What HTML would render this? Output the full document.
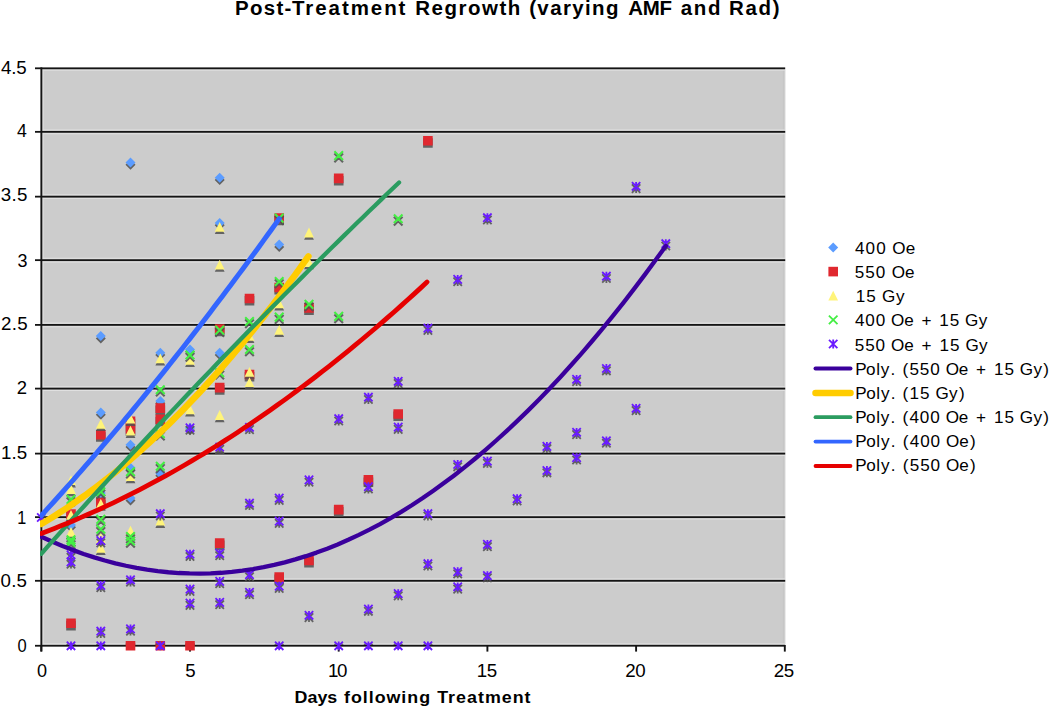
<!DOCTYPE html><html><head><meta charset="utf-8"><title>Post-Treatment Regrowth</title>
<style>html,body{margin:0;padding:0;background:#fff;overflow:hidden}svg{display:block}text{font-family:"Liberation Sans",sans-serif;fill:#000}</style></head><body>
<svg width="1050" height="706" viewBox="0 0 1050 706">
<defs><clipPath id="pc"><rect x="41" y="60" width="745" height="584.9"/></clipPath><clipPath id="lc"><rect x="39.9" y="60" width="746" height="600"/></clipPath></defs>
<rect x="41.3" y="68.3" width="743.5" height="577.5" fill="#cccccc"/>
<rect x="782.8" y="69.5" width="2" height="575" fill="#c6c6c6"/>
<rect x="42.3" y="69.5" width="1.4" height="575" fill="#dddddd"/>
<rect x="784.8" y="69.5" width="1.2" height="575" fill="#ececec"/>
<rect x="42.2" y="643.35" width="742.6" height="1.1" fill="#e0e0e0"/>
<rect x="35" y="644.85" width="750.2" height="1.8" fill="#141414"/>
<rect x="42.2" y="578.40" width="742.6" height="1.1" fill="#e0e0e0"/>
<rect x="42.2" y="582.10" width="742.6" height="1.1" fill="#e0e0e0"/>
<rect x="35" y="579.90" width="750.2" height="1.8" fill="#141414"/>
<rect x="42.2" y="514.75" width="742.6" height="1.1" fill="#e0e0e0"/>
<rect x="42.2" y="518.45" width="742.6" height="1.1" fill="#e0e0e0"/>
<rect x="35" y="516.25" width="750.2" height="1.8" fill="#141414"/>
<rect x="42.2" y="451.20" width="742.6" height="1.1" fill="#e0e0e0"/>
<rect x="42.2" y="454.90" width="742.6" height="1.1" fill="#e0e0e0"/>
<rect x="35" y="452.70" width="750.2" height="1.8" fill="#141414"/>
<rect x="42.2" y="386.20" width="742.6" height="1.1" fill="#e0e0e0"/>
<rect x="42.2" y="389.90" width="742.6" height="1.1" fill="#e0e0e0"/>
<rect x="35" y="387.70" width="750.2" height="1.8" fill="#141414"/>
<rect x="42.2" y="322.50" width="742.6" height="1.1" fill="#e0e0e0"/>
<rect x="42.2" y="326.20" width="742.6" height="1.1" fill="#e0e0e0"/>
<rect x="35" y="324.00" width="750.2" height="1.8" fill="#141414"/>
<rect x="42.2" y="257.75" width="742.6" height="1.1" fill="#e0e0e0"/>
<rect x="42.2" y="261.45" width="742.6" height="1.1" fill="#e0e0e0"/>
<rect x="35" y="259.25" width="750.2" height="1.8" fill="#141414"/>
<rect x="42.2" y="194.25" width="742.6" height="1.1" fill="#e0e0e0"/>
<rect x="42.2" y="197.95" width="742.6" height="1.1" fill="#e0e0e0"/>
<rect x="35" y="195.75" width="750.2" height="1.8" fill="#141414"/>
<rect x="42.2" y="129.45" width="742.6" height="1.1" fill="#e0e0e0"/>
<rect x="42.2" y="133.15" width="742.6" height="1.1" fill="#e0e0e0"/>
<rect x="35" y="130.95" width="750.2" height="1.8" fill="#141414"/>
<rect x="42.2" y="69.60" width="742.6" height="1.1" fill="#e0e0e0"/>
<rect x="35" y="67.40" width="750.2" height="1.8" fill="#141414"/>
<rect x="40.4" y="67.4" width="1.9" height="584" fill="#141414"/>
<rect x="40.35" y="645" width="1.9" height="6.6" fill="#141414"/>
<rect x="189.05" y="645" width="1.9" height="6.6" fill="#141414"/>
<rect x="337.75" y="645" width="1.9" height="6.6" fill="#141414"/>
<rect x="486.45" y="645" width="1.9" height="6.6" fill="#141414"/>
<rect x="635.15" y="645" width="1.9" height="6.6" fill="#141414"/>
<rect x="783.85" y="645" width="1.9" height="6.6" fill="#141414"/>
<path d="M71.0 522.2L76.0 527.2L71.0 532.2L66.0 527.2ZM100.8 333.4L105.8 338.4L100.8 343.4L95.8 338.4ZM100.8 409.7L105.8 414.7L100.8 419.7L95.8 414.7ZM100.8 490.4L105.8 495.4L100.8 500.4L95.8 495.4ZM130.5 159.7L135.5 164.7L130.5 169.7L125.5 164.7ZM130.5 442.1L135.5 447.1L130.5 452.1L125.5 447.1ZM130.5 465.1L135.5 470.1L130.5 475.1L125.5 470.1ZM130.5 495.4L135.5 500.4L130.5 505.4L125.5 500.4ZM160.3 350.1L165.3 355.1L160.3 360.1L155.3 355.1ZM160.3 398.2L165.3 403.2L160.3 408.2L155.3 403.2ZM160.3 470.8L165.3 475.8L160.3 480.8L155.3 475.8ZM190.0 346.7L195.0 351.7L190.0 356.7L185.0 351.7ZM190.0 425.2L195.0 430.2L190.0 435.2L185.0 430.2ZM219.7 175.0L224.7 180.0L219.7 185.0L214.7 180.0ZM219.7 220.3L224.7 225.3L219.7 230.3L214.7 225.3ZM219.7 350.1L224.7 355.1L219.7 360.1L214.7 355.1ZM279.2 241.9L284.2 246.9L279.2 251.9L274.2 246.9Z" fill="rgba(80,80,80,0.85)" clip-path="url(#pc)"/><path d="M71.0 519.9L76.0 524.9L71.0 529.9L66.0 524.9ZM100.8 331.1L105.8 336.1L100.8 341.1L95.8 336.1ZM100.8 407.4L105.8 412.4L100.8 417.4L95.8 412.4ZM100.8 488.1L105.8 493.1L100.8 498.1L95.8 493.1ZM130.5 157.4L135.5 162.4L130.5 167.4L125.5 162.4ZM130.5 439.8L135.5 444.8L130.5 449.8L125.5 444.8ZM130.5 462.8L135.5 467.8L130.5 472.8L125.5 467.8ZM130.5 493.1L135.5 498.1L130.5 503.1L125.5 498.1ZM160.3 347.8L165.3 352.8L160.3 357.8L155.3 352.8ZM160.3 395.9L165.3 400.9L160.3 405.9L155.3 400.9ZM160.3 468.5L165.3 473.5L160.3 478.5L155.3 473.5ZM190.0 344.4L195.0 349.4L190.0 354.4L185.0 349.4ZM190.0 422.9L195.0 427.9L190.0 432.9L185.0 427.9ZM219.7 172.7L224.7 177.7L219.7 182.7L214.7 177.7ZM219.7 218.0L224.7 223.0L219.7 228.0L214.7 223.0ZM219.7 347.8L224.7 352.8L219.7 357.8L214.7 352.8ZM279.2 239.6L284.2 244.6L279.2 249.6L274.2 244.6Z" fill="#5b9cff"/>
<path d="M66.2 511.6h9.6v9.6h-9.6ZM66.2 620.8h9.6v9.6h-9.6ZM96.0 432.2h9.6v9.6h-9.6ZM96.0 500.0h9.6v9.6h-9.6ZM125.7 418.7h9.6v9.6h-9.6ZM125.7 426.4h9.6v9.6h-9.6ZM125.7 643.3h9.6v9.6h-9.6ZM155.5 405.6h9.6v9.6h-9.6ZM155.5 416.7h9.6v9.6h-9.6ZM155.5 643.3h9.6v9.6h-9.6ZM185.2 643.3h9.6v9.6h-9.6ZM214.9 385.1h9.6v9.6h-9.6ZM214.9 326.6h9.6v9.6h-9.6ZM214.9 540.6h9.6v9.6h-9.6ZM244.7 296.0h9.6v9.6h-9.6ZM244.7 372.0h9.6v9.6h-9.6ZM274.4 215.6h9.6v9.6h-9.6ZM274.4 285.0h9.6v9.6h-9.6ZM274.4 574.6h9.6v9.6h-9.6ZM304.2 305.4h9.6v9.6h-9.6ZM304.2 558.0h9.6v9.6h-9.6ZM333.9 175.9h9.6v9.6h-9.6ZM333.9 507.1h9.6v9.6h-9.6ZM363.6 477.4h9.6v9.6h-9.6ZM393.4 411.5h9.6v9.6h-9.6ZM423.1 138.2h9.6v9.6h-9.6Z" fill="rgba(80,80,80,0.85)" clip-path="url(#pc)"/><path d="M66.2 509.3h9.6v9.6h-9.6ZM66.2 618.5h9.6v9.6h-9.6ZM96.0 429.9h9.6v9.6h-9.6ZM96.0 497.7h9.6v9.6h-9.6ZM125.7 416.4h9.6v9.6h-9.6ZM125.7 424.1h9.6v9.6h-9.6ZM125.7 641.0h9.6v9.6h-9.6ZM155.5 403.3h9.6v9.6h-9.6ZM155.5 414.4h9.6v9.6h-9.6ZM155.5 641.0h9.6v9.6h-9.6ZM185.2 641.0h9.6v9.6h-9.6ZM214.9 382.8h9.6v9.6h-9.6ZM214.9 324.3h9.6v9.6h-9.6ZM214.9 538.3h9.6v9.6h-9.6ZM244.7 293.7h9.6v9.6h-9.6ZM244.7 369.7h9.6v9.6h-9.6ZM274.4 213.3h9.6v9.6h-9.6ZM274.4 282.7h9.6v9.6h-9.6ZM274.4 572.3h9.6v9.6h-9.6ZM304.2 303.1h9.6v9.6h-9.6ZM304.2 555.7h9.6v9.6h-9.6ZM333.9 173.6h9.6v9.6h-9.6ZM333.9 504.8h9.6v9.6h-9.6ZM363.6 475.1h9.6v9.6h-9.6ZM393.4 409.2h9.6v9.6h-9.6ZM423.1 135.9h9.6v9.6h-9.6Z" fill="#e0282f"/>
<path d="M71.0 477.6L75.9 487.4L66.1 487.4ZM71.0 486.5L75.9 496.3L66.1 496.3ZM71.0 512.2L75.9 522.0L66.1 522.0ZM71.0 529.3L75.9 539.1L66.1 539.1ZM100.8 421.2L105.7 431.0L95.9 431.0ZM100.8 501.0L105.7 510.8L95.9 510.8ZM100.8 535.3L105.7 545.1L95.9 545.1ZM100.8 545.2L105.7 555.0L95.9 555.0ZM130.5 416.1L135.4 425.9L125.6 425.9ZM130.5 428.1L135.4 437.9L125.6 437.9ZM130.5 473.4L135.4 483.2L125.6 483.2ZM130.5 528.1L135.4 537.9L125.6 537.9ZM160.3 355.8L165.2 365.6L155.4 365.6ZM160.3 518.1L165.2 527.9L155.4 527.9ZM190.0 357.2L194.9 367.0L185.1 367.0ZM190.0 406.8L194.9 416.6L185.1 416.6ZM219.7 224.2L224.6 234.0L214.8 234.0ZM219.7 262.0L224.6 271.8L214.8 271.8ZM219.7 412.4L224.6 422.2L214.8 422.2ZM219.7 444.2L224.6 454.0L214.8 454.0ZM249.5 369.2L254.4 379.0L244.6 379.0ZM249.5 379.5L254.4 389.3L244.6 389.3ZM249.5 333.2L254.4 343.0L244.6 343.0ZM279.2 300.8L284.1 310.6L274.3 310.6ZM279.2 327.3L284.1 337.1L274.3 337.1ZM309.0 229.9L313.9 239.7L304.1 239.7ZM309.0 259.4L313.9 269.2L304.1 269.2Z" fill="rgba(80,80,80,0.85)" clip-path="url(#pc)"/><path d="M71.0 475.3L75.9 485.1L66.1 485.1ZM71.0 484.2L75.9 494.0L66.1 494.0ZM71.0 509.9L75.9 519.7L66.1 519.7ZM71.0 527.0L75.9 536.8L66.1 536.8ZM100.8 418.9L105.7 428.7L95.9 428.7ZM100.8 498.7L105.7 508.5L95.9 508.5ZM100.8 533.0L105.7 542.8L95.9 542.8ZM100.8 542.9L105.7 552.7L95.9 552.7ZM130.5 413.8L135.4 423.6L125.6 423.6ZM130.5 425.8L135.4 435.6L125.6 435.6ZM130.5 471.1L135.4 480.9L125.6 480.9ZM130.5 525.8L135.4 535.6L125.6 535.6ZM160.3 353.5L165.2 363.3L155.4 363.3ZM160.3 515.8L165.2 525.6L155.4 525.6ZM190.0 354.9L194.9 364.7L185.1 364.7ZM190.0 404.5L194.9 414.3L185.1 414.3ZM219.7 221.9L224.6 231.7L214.8 231.7ZM219.7 259.7L224.6 269.5L214.8 269.5ZM219.7 410.1L224.6 419.9L214.8 419.9ZM219.7 441.9L224.6 451.7L214.8 451.7ZM249.5 366.9L254.4 376.7L244.6 376.7ZM249.5 377.2L254.4 387.0L244.6 387.0ZM249.5 330.9L254.4 340.7L244.6 340.7ZM279.2 298.5L284.1 308.3L274.3 308.3ZM279.2 325.0L284.1 334.8L274.3 334.8ZM309.0 227.6L313.9 237.4L304.1 237.4ZM309.0 257.1L313.9 266.9L304.1 266.9Z" fill="#fff47a"/>
<path d="M66.7 497.4L75.3 506.0M75.3 497.4L66.7 506.0M66.7 537.7L75.3 546.3M75.3 537.7L66.7 546.3M66.7 540.5L75.3 549.1M75.3 540.5L66.7 549.1M96.5 517.4L105.1 526.0M105.1 517.4L96.5 526.0M96.5 527.3L105.1 535.9M105.1 527.3L96.5 535.9M96.5 489.8L105.1 498.4M105.1 489.8L96.5 498.4M126.2 469.7L134.8 478.3M134.8 469.7L126.2 478.3M126.2 534.5L134.8 543.1M134.8 534.5L126.2 543.1M126.2 539.0L134.8 547.6M134.8 539.0L126.2 547.6M156.0 464.3L164.6 472.9M164.6 464.3L156.0 472.9M156.0 387.7L164.6 396.3M164.6 387.7L156.0 396.3M156.0 431.7L164.6 440.3M164.6 431.7L156.0 440.3M185.7 353.0L194.3 361.6M194.3 353.0L185.7 361.6M215.4 328.1L224.0 336.7M224.0 328.1L215.4 336.7M215.4 370.7L224.0 379.3M224.0 370.7L215.4 379.3M245.2 319.5L253.8 328.1M253.8 319.5L245.2 328.1M245.2 347.5L253.8 356.1M253.8 347.5L245.2 356.1M274.9 279.5L283.5 288.1M283.5 279.5L274.9 288.1M274.9 315.1L283.5 323.7M283.5 315.1L274.9 323.7M274.9 216.1L283.5 224.7M283.5 216.1L274.9 224.7M304.7 302.4L313.3 311.0M313.3 302.4L304.7 311.0M334.4 153.6L343.0 162.2M343.0 153.6L334.4 162.2M334.4 314.4L343.0 323.0M343.0 314.4L334.4 323.0M393.9 216.8L402.5 225.4M402.5 216.8L393.9 225.4" fill="none" stroke="rgba(80,80,80,0.85)" stroke-width="2.1" clip-path="url(#pc)"/><path d="M66.7 495.1L75.3 503.7M75.3 495.1L66.7 503.7M66.7 535.4L75.3 544.0M75.3 535.4L66.7 544.0M66.7 538.2L75.3 546.8M75.3 538.2L66.7 546.8M96.5 515.1L105.1 523.7M105.1 515.1L96.5 523.7M96.5 525.0L105.1 533.6M105.1 525.0L96.5 533.6M96.5 487.5L105.1 496.1M105.1 487.5L96.5 496.1M126.2 467.4L134.8 476.0M134.8 467.4L126.2 476.0M126.2 532.2L134.8 540.8M134.8 532.2L126.2 540.8M126.2 536.7L134.8 545.3M134.8 536.7L126.2 545.3M156.0 462.0L164.6 470.6M164.6 462.0L156.0 470.6M156.0 385.4L164.6 394.0M164.6 385.4L156.0 394.0M156.0 429.4L164.6 438.0M164.6 429.4L156.0 438.0M185.7 350.7L194.3 359.3M194.3 350.7L185.7 359.3M215.4 325.8L224.0 334.4M224.0 325.8L215.4 334.4M215.4 368.4L224.0 377.0M224.0 368.4L215.4 377.0M245.2 317.2L253.8 325.8M253.8 317.2L245.2 325.8M245.2 345.2L253.8 353.8M253.8 345.2L245.2 353.8M274.9 277.2L283.5 285.8M283.5 277.2L274.9 285.8M274.9 312.8L283.5 321.4M283.5 312.8L274.9 321.4M274.9 213.8L283.5 222.4M283.5 213.8L274.9 222.4M304.7 300.1L313.3 308.7M313.3 300.1L304.7 308.7M334.4 151.3L343.0 159.9M343.0 151.3L334.4 159.9M334.4 312.1L343.0 320.7M343.0 312.1L334.4 320.7M393.9 214.5L402.5 223.1M402.5 214.5L393.9 223.1" fill="none" stroke="#44ee44" stroke-width="2.1"/>
<path d="M37.1 515.6L45.5 524.0M45.5 515.6L37.1 524.0M41.3 515.4V524.2M66.8 553.0L75.2 561.4M75.2 553.0L66.8 561.4M71.0 552.8V561.6M66.8 560.0L75.2 568.4M75.2 560.0L66.8 568.4M71.0 559.8V568.6M66.8 643.9L75.2 652.3M75.2 643.9L66.8 652.3M71.0 643.7V652.5M96.6 538.7L105.0 547.1M105.0 538.7L96.6 547.1M100.8 538.5V547.3M96.6 583.5L105.0 591.9M105.0 583.5L96.6 591.9M100.8 583.3V592.1M96.6 629.3L105.0 637.7M105.0 629.3L96.6 637.7M100.8 629.1V637.9M96.6 643.9L105.0 652.3M105.0 643.9L96.6 652.3M100.8 643.7V652.5M126.3 577.9L134.7 586.3M134.7 577.9L126.3 586.3M130.5 577.7V586.5M126.3 627.0L134.7 635.4M134.7 627.0L126.3 635.4M130.5 626.8V635.6M156.1 511.8L164.5 520.2M164.5 511.8L156.1 520.2M160.3 511.6V520.4M156.1 643.9L164.5 652.3M164.5 643.9L156.1 652.3M160.3 643.7V652.5M185.8 552.3L194.2 560.7M194.2 552.3L185.8 560.7M190.0 552.1V560.9M185.8 587.2L194.2 595.6M194.2 587.2L185.8 595.6M190.0 587.0V595.8M185.8 601.2L194.2 609.6M194.2 601.2L185.8 609.6M190.0 601.0V609.8M185.8 426.0L194.2 434.4M194.2 426.0L185.8 434.4M190.0 425.8V434.6M215.5 445.2L223.9 453.6M223.9 445.2L215.5 453.6M219.7 445.0V453.8M215.5 551.5L223.9 559.9M223.9 551.5L215.5 559.9M219.7 551.3V560.1M215.5 579.5L223.9 587.9M223.9 579.5L215.5 587.9M219.7 579.3V588.1M215.5 600.5L223.9 608.9M223.9 600.5L215.5 608.9M219.7 600.3V609.1M245.3 425.4L253.7 433.8M253.7 425.4L245.3 433.8M249.5 425.2V434.0M245.3 501.3L253.7 509.7M253.7 501.3L245.3 509.7M249.5 501.1V509.9M245.3 572.7L253.7 581.1M253.7 572.7L245.3 581.1M249.5 572.5V581.3M245.3 590.5L253.7 598.9M253.7 590.5L245.3 598.9M249.5 590.3V599.1M275.0 496.2L283.4 504.6M283.4 496.2L275.0 504.6M279.2 496.0V504.8M275.0 519.2L283.4 527.6M283.4 519.2L275.0 527.6M279.2 519.0V527.8M275.0 584.2L283.4 592.6M283.4 584.2L275.0 592.6M279.2 584.0V592.8M275.0 643.9L283.4 652.3M283.4 643.9L275.0 652.3M279.2 643.7V652.5M304.8 478.0L313.2 486.4M313.2 478.0L304.8 486.4M309.0 477.8V486.6M304.8 613.4L313.2 621.8M313.2 613.4L304.8 621.8M309.0 613.2V622.0M334.5 416.8L342.9 425.2M342.9 416.8L334.5 425.2M338.7 416.6V425.4M334.5 643.9L342.9 652.3M342.9 643.9L334.5 652.3M338.7 643.7V652.5M364.2 395.3L372.6 403.7M372.6 395.3L364.2 403.7M368.4 395.1V403.9M364.2 484.8L372.6 493.2M372.6 484.8L364.2 493.2M368.4 484.6V493.4M364.2 607.1L372.6 615.5M372.6 607.1L364.2 615.5M368.4 606.9V615.7M364.2 643.9L372.6 652.3M372.6 643.9L364.2 652.3M368.4 643.7V652.5M394.0 379.4L402.4 387.8M402.4 379.4L394.0 387.8M398.2 379.2V388.0M394.0 425.2L402.4 433.6M402.4 425.2L394.0 433.6M398.2 425.0V433.8M394.0 591.7L402.4 600.1M402.4 591.7L394.0 600.1M398.2 591.5V600.3M394.0 643.9L402.4 652.3M402.4 643.9L394.0 652.3M398.2 643.7V652.5M423.7 326.2L432.1 334.6M432.1 326.2L423.7 334.6M427.9 326.0V334.8M423.7 511.8L432.1 520.2M432.1 511.8L423.7 520.2M427.9 511.6V520.4M423.7 561.8L432.1 570.2M432.1 561.8L423.7 570.2M427.9 561.6V570.4M423.7 643.9L432.1 652.3M432.1 643.9L423.7 652.3M427.9 643.7V652.5M453.5 277.5L461.9 285.9M461.9 277.5L453.5 285.9M457.7 277.3V286.1M453.5 462.6L461.9 471.0M461.9 462.6L453.5 471.0M457.7 462.4V471.2M453.5 569.7L461.9 578.1M461.9 569.7L453.5 578.1M457.7 569.5V578.3M453.5 584.9L461.9 593.3M461.9 584.9L453.5 593.3M457.7 584.7V593.5M483.2 215.8L491.6 224.2M491.6 215.8L483.2 224.2M487.4 215.6V224.4M483.2 459.2L491.6 467.6M491.6 459.2L483.2 467.6M487.4 459.0V467.8M483.2 542.5L491.6 550.9M491.6 542.5L483.2 550.9M487.4 542.3V551.1M483.2 573.7L491.6 582.1M491.6 573.7L483.2 582.1M487.4 573.5V582.3M512.9 496.8L521.3 505.2M521.3 496.8L512.9 505.2M517.1 496.6V505.4M542.7 444.5L551.1 452.9M551.1 444.5L542.7 452.9M546.9 444.3V453.1M542.7 468.6L551.1 477.0M551.1 468.6L542.7 477.0M546.9 468.4V477.2M572.4 377.4L580.8 385.8M580.8 377.4L572.4 385.8M576.6 377.2V386.0M572.4 430.4L580.8 438.8M580.8 430.4L572.4 438.8M576.6 430.2V439.0M572.4 455.8L580.8 464.2M580.8 455.8L572.4 464.2M576.6 455.6V464.4M602.2 274.3L610.6 282.7M610.6 274.3L602.2 282.7M606.4 274.1V282.9M602.2 366.6L610.6 375.0M610.6 366.6L602.2 375.0M606.4 366.4V375.2M602.2 439.0L610.6 447.4M610.6 439.0L602.2 447.4M606.4 438.8V447.6M631.9 184.4L640.3 192.8M640.3 184.4L631.9 192.8M636.1 184.2V193.0M631.9 406.4L640.3 414.8M640.3 406.4L631.9 414.8M636.1 406.2V415.0M661.6 241.8L670.0 250.2M670.0 241.8L661.6 250.2M665.8 241.6V250.4" fill="none" stroke="rgba(80,80,80,0.85)" stroke-width="1.8" clip-path="url(#pc)"/><path d="M37.1 513.3L45.5 521.7M45.5 513.3L37.1 521.7M41.3 513.1V521.9M66.8 550.7L75.2 559.1M75.2 550.7L66.8 559.1M71.0 550.5V559.3M66.8 557.7L75.2 566.1M75.2 557.7L66.8 566.1M71.0 557.5V566.3M66.8 641.6L75.2 650.0M75.2 641.6L66.8 650.0M71.0 641.4V650.2M96.6 536.4L105.0 544.8M105.0 536.4L96.6 544.8M100.8 536.2V545.0M96.6 581.2L105.0 589.6M105.0 581.2L96.6 589.6M100.8 581.0V589.8M96.6 627.0L105.0 635.4M105.0 627.0L96.6 635.4M100.8 626.8V635.6M96.6 641.6L105.0 650.0M105.0 641.6L96.6 650.0M100.8 641.4V650.2M126.3 575.6L134.7 584.0M134.7 575.6L126.3 584.0M130.5 575.4V584.2M126.3 624.7L134.7 633.1M134.7 624.7L126.3 633.1M130.5 624.5V633.3M156.1 509.5L164.5 517.9M164.5 509.5L156.1 517.9M160.3 509.3V518.1M156.1 641.6L164.5 650.0M164.5 641.6L156.1 650.0M160.3 641.4V650.2M185.8 550.0L194.2 558.4M194.2 550.0L185.8 558.4M190.0 549.8V558.6M185.8 584.9L194.2 593.3M194.2 584.9L185.8 593.3M190.0 584.7V593.5M185.8 598.9L194.2 607.3M194.2 598.9L185.8 607.3M190.0 598.7V607.5M185.8 423.7L194.2 432.1M194.2 423.7L185.8 432.1M190.0 423.5V432.3M215.5 442.9L223.9 451.3M223.9 442.9L215.5 451.3M219.7 442.7V451.5M215.5 549.2L223.9 557.6M223.9 549.2L215.5 557.6M219.7 549.0V557.8M215.5 577.2L223.9 585.6M223.9 577.2L215.5 585.6M219.7 577.0V585.8M215.5 598.2L223.9 606.6M223.9 598.2L215.5 606.6M219.7 598.0V606.8M245.3 423.1L253.7 431.5M253.7 423.1L245.3 431.5M249.5 422.9V431.7M245.3 499.0L253.7 507.4M253.7 499.0L245.3 507.4M249.5 498.8V507.6M245.3 570.4L253.7 578.8M253.7 570.4L245.3 578.8M249.5 570.2V579.0M245.3 588.2L253.7 596.6M253.7 588.2L245.3 596.6M249.5 588.0V596.8M275.0 493.9L283.4 502.3M283.4 493.9L275.0 502.3M279.2 493.7V502.5M275.0 516.9L283.4 525.3M283.4 516.9L275.0 525.3M279.2 516.7V525.5M275.0 581.9L283.4 590.3M283.4 581.9L275.0 590.3M279.2 581.7V590.5M275.0 641.6L283.4 650.0M283.4 641.6L275.0 650.0M279.2 641.4V650.2M304.8 475.7L313.2 484.1M313.2 475.7L304.8 484.1M309.0 475.5V484.3M304.8 611.1L313.2 619.5M313.2 611.1L304.8 619.5M309.0 610.9V619.7M334.5 414.5L342.9 422.9M342.9 414.5L334.5 422.9M338.7 414.3V423.1M334.5 641.6L342.9 650.0M342.9 641.6L334.5 650.0M338.7 641.4V650.2M364.2 393.0L372.6 401.4M372.6 393.0L364.2 401.4M368.4 392.8V401.6M364.2 482.5L372.6 490.9M372.6 482.5L364.2 490.9M368.4 482.3V491.1M364.2 604.8L372.6 613.2M372.6 604.8L364.2 613.2M368.4 604.6V613.4M364.2 641.6L372.6 650.0M372.6 641.6L364.2 650.0M368.4 641.4V650.2M394.0 377.1L402.4 385.5M402.4 377.1L394.0 385.5M398.2 376.9V385.7M394.0 422.9L402.4 431.3M402.4 422.9L394.0 431.3M398.2 422.7V431.5M394.0 589.4L402.4 597.8M402.4 589.4L394.0 597.8M398.2 589.2V598.0M394.0 641.6L402.4 650.0M402.4 641.6L394.0 650.0M398.2 641.4V650.2M423.7 323.9L432.1 332.3M432.1 323.9L423.7 332.3M427.9 323.7V332.5M423.7 509.5L432.1 517.9M432.1 509.5L423.7 517.9M427.9 509.3V518.1M423.7 559.5L432.1 567.9M432.1 559.5L423.7 567.9M427.9 559.3V568.1M423.7 641.6L432.1 650.0M432.1 641.6L423.7 650.0M427.9 641.4V650.2M453.5 275.2L461.9 283.6M461.9 275.2L453.5 283.6M457.7 275.0V283.8M453.5 460.3L461.9 468.7M461.9 460.3L453.5 468.7M457.7 460.1V468.9M453.5 567.4L461.9 575.8M461.9 567.4L453.5 575.8M457.7 567.2V576.0M453.5 582.6L461.9 591.0M461.9 582.6L453.5 591.0M457.7 582.4V591.2M483.2 213.5L491.6 221.9M491.6 213.5L483.2 221.9M487.4 213.3V222.1M483.2 456.9L491.6 465.3M491.6 456.9L483.2 465.3M487.4 456.7V465.5M483.2 540.2L491.6 548.6M491.6 540.2L483.2 548.6M487.4 540.0V548.8M483.2 571.4L491.6 579.8M491.6 571.4L483.2 579.8M487.4 571.2V580.0M512.9 494.5L521.3 502.9M521.3 494.5L512.9 502.9M517.1 494.3V503.1M542.7 442.2L551.1 450.6M551.1 442.2L542.7 450.6M546.9 442.0V450.8M542.7 466.3L551.1 474.7M551.1 466.3L542.7 474.7M546.9 466.1V474.9M572.4 375.1L580.8 383.5M580.8 375.1L572.4 383.5M576.6 374.9V383.7M572.4 428.1L580.8 436.5M580.8 428.1L572.4 436.5M576.6 427.9V436.7M572.4 453.5L580.8 461.9M580.8 453.5L572.4 461.9M576.6 453.3V462.1M602.2 272.0L610.6 280.4M610.6 272.0L602.2 280.4M606.4 271.8V280.6M602.2 364.3L610.6 372.7M610.6 364.3L602.2 372.7M606.4 364.1V372.9M602.2 436.7L610.6 445.1M610.6 436.7L602.2 445.1M606.4 436.5V445.3M631.9 182.1L640.3 190.5M640.3 182.1L631.9 190.5M636.1 181.9V190.7M631.9 404.1L640.3 412.5M640.3 404.1L631.9 412.5M636.1 403.9V412.7M661.6 239.5L670.0 247.9M670.0 239.5L661.6 247.9M665.8 239.3V248.1" fill="none" stroke="#6a1bff" stroke-width="1.8"/>
<path d="M41.30 536.70L51.89 541.51L62.47 545.98L73.06 550.12L83.64 553.92L94.23 557.38L104.81 560.51L115.40 563.30L125.98 565.76L136.57 567.88L147.15 569.67L157.74 571.12L168.33 572.24L178.91 573.02L189.50 573.46L200.08 573.57L210.67 573.34L221.25 572.77L231.84 571.87L242.42 570.64L253.01 569.07L263.59 567.16L274.18 564.92L284.76 562.34L295.35 559.43L305.94 556.18L316.52 552.59L327.11 548.67L337.69 544.41L348.28 539.82L358.86 534.89L369.45 529.63L380.03 524.03L390.62 518.09L401.20 511.82L411.79 505.21L422.38 498.27L432.96 490.99L443.55 483.37L454.13 475.42L464.72 467.14L475.30 458.51L485.89 449.56L496.47 440.26L507.06 430.63L517.64 420.67L528.23 410.37L538.81 399.73L549.40 388.76L559.99 377.45L570.57 365.81L581.16 353.83L591.74 341.51L602.33 328.86L612.91 315.87L623.50 302.55L634.08 288.89L644.67 274.90L655.25 260.57L665.84 245.90" fill="none" stroke="#3a009c" stroke-width="4.3" stroke-linecap="round" stroke-linejoin="round" clip-path="url(#lc)"/>
<path d="M41.30 523.85L45.83 521.18L50.35 518.45L54.88 515.65L59.41 512.79L63.93 509.86L68.46 506.87L72.99 503.82L77.51 500.70L82.04 497.52L86.57 494.27L91.09 490.96L95.62 487.58L100.14 484.14L104.67 480.64L109.20 477.07L113.72 473.44L118.25 469.74L122.78 465.98L127.30 462.15L131.83 458.26L136.36 454.31L140.88 450.29L145.41 446.20L149.94 442.05L154.46 437.84L158.99 433.57L163.52 429.22L168.04 424.82L172.57 420.35L177.10 415.82L181.62 411.22L186.15 406.55L190.68 401.83L195.20 397.03L199.73 392.18L204.26 387.26L208.78 382.27L213.31 377.23L217.83 372.11L222.36 366.93L226.89 361.69L231.41 356.39L235.94 351.02L240.47 345.58L244.99 340.08L249.52 334.52L254.05 328.89L258.57 323.20L263.10 317.44L267.63 311.62L272.15 305.73L276.68 299.78L281.21 293.77L285.73 287.69L290.26 281.55L294.79 275.34L299.31 269.07L303.84 262.73L308.37 256.33" fill="none" stroke="#ffcc00" stroke-width="6.5" stroke-linecap="round" stroke-linejoin="round" clip-path="url(#lc)"/>
<path d="M41.30 553.73L47.36 546.93L53.43 540.14L59.49 533.38L65.56 526.63L71.62 519.90L77.68 513.18L83.75 506.49L89.81 499.81L95.88 493.14L101.94 486.50L108.00 479.87L114.07 473.27L120.13 466.67L126.20 460.10L132.26 453.54L138.32 447.01L144.39 440.48L150.45 433.98L156.51 427.50L162.58 421.03L168.64 414.58L174.71 408.14L180.77 401.73L186.83 395.33L192.90 388.95L198.96 382.59L205.03 376.24L211.09 369.91L217.15 363.60L223.22 357.31L229.28 351.04L235.35 344.78L241.41 338.54L247.47 332.32L253.54 326.11L259.60 319.93L265.67 313.76L271.73 307.61L277.79 301.47L283.86 295.35L289.92 289.26L295.99 283.17L302.05 277.11L308.11 271.06L314.18 265.03L320.24 259.02L326.30 253.03L332.37 247.05L338.43 241.10L344.50 235.15L350.56 229.23L356.62 223.33L362.69 217.44L368.75 211.57L374.82 205.71L380.88 199.88L386.94 194.06L393.01 188.26L399.07 182.48" fill="none" stroke="#2b9c60" stroke-width="4.3" stroke-linecap="round" stroke-linejoin="round" clip-path="url(#lc)"/>
<path d="M41.30 515.57L45.33 511.14L49.37 506.68L53.40 502.21L57.43 497.72L61.46 493.21L65.50 488.67L69.53 484.12L73.56 479.54L77.59 474.94L81.63 470.33L85.66 465.69L89.69 461.03L93.72 456.35L97.76 451.65L101.79 446.93L105.82 442.19L109.85 437.43L113.89 432.65L117.92 427.84L121.95 423.02L125.98 418.17L130.02 413.31L134.05 408.42L138.08 403.52L142.11 398.59L146.15 393.64L150.18 388.67L154.21 383.68L158.24 378.67L162.28 373.64L166.31 368.59L170.34 363.52L174.37 358.42L178.41 353.31L182.44 348.18L186.47 343.02L190.50 337.85L194.54 332.65L198.57 327.43L202.60 322.19L206.63 316.94L210.67 311.66L214.70 306.36L218.73 301.04L222.76 295.69L226.80 290.33L230.83 284.95L234.86 279.55L238.89 274.12L242.93 268.68L246.96 263.21L250.99 257.72L255.02 252.22L259.06 246.69L263.09 241.14L267.12 235.57L271.15 229.98L275.19 224.37L279.22 218.74" fill="none" stroke="#3366ff" stroke-width="5.0" stroke-linecap="round" stroke-linejoin="round" clip-path="url(#lc)"/>
<path d="M41.30 533.44L47.84 530.96L54.38 528.43L60.91 525.83L67.45 523.17L73.99 520.44L80.53 517.66L87.06 514.82L93.60 511.91L100.14 508.94L106.68 505.91L113.22 502.82L119.75 499.67L126.29 496.45L132.83 493.18L139.37 489.84L145.90 486.44L152.44 482.98L158.98 479.46L165.52 475.88L172.06 472.23L178.59 468.53L185.13 464.76L191.67 460.93L198.21 457.04L204.74 453.09L211.28 449.07L217.82 445.00L224.36 440.86L230.90 436.66L237.43 432.40L243.97 428.08L250.51 423.69L257.05 419.25L263.58 414.74L270.12 410.18L276.66 405.55L283.20 400.86L289.73 396.10L296.27 391.29L302.81 386.41L309.35 381.48L315.89 376.48L322.42 371.42L328.96 366.30L335.50 361.11L342.04 355.87L348.57 350.56L355.11 345.19L361.65 339.76L368.19 334.27L374.73 328.72L381.26 323.11L387.80 317.43L394.34 311.69L400.88 305.90L407.41 300.04L413.95 294.11L420.49 288.13L427.03 282.09" fill="none" stroke="#e60000" stroke-width="4.8" stroke-linecap="round" stroke-linejoin="round" clip-path="url(#lc)"/>
<text transform="scale(1.05,1)" x="223.81" y="14.90" font-size="19.5" font-weight="bold" textLength="53.69" lengthAdjust="spacing">Post-</text>
<text transform="scale(1.05,1)" x="278.10" y="14.90" font-size="19.5" font-weight="bold" textLength="108.02" lengthAdjust="spacing">Treatment</text>
<text transform="scale(1.05,1)" x="395.43" y="14.90" font-size="19.5" font-weight="bold" textLength="100.17" lengthAdjust="spacing">Regrowth</text>
<text transform="scale(1.05,1)" x="504.00" y="14.90" font-size="19.5" font-weight="bold" textLength="84.97" lengthAdjust="spacing">(varying</text>
<text transform="scale(1.05,1)" x="598.29" y="14.90" font-size="19.5" font-weight="bold" textLength="41.66" lengthAdjust="spacing">AMF</text>
<text transform="scale(1.05,1)" x="648.38" y="14.90" font-size="19.5" font-weight="bold" textLength="37.80" lengthAdjust="spacing">and</text>
<text transform="scale(1.05,1)" x="694.29" y="14.90" font-size="19.5" font-weight="bold" textLength="48.18" lengthAdjust="spacing">Rad)</text>
<text transform="scale(1.05,1)" x="280.57" y="703.10" font-size="17" font-weight="bold" textLength="40.63" lengthAdjust="spacing">Days</text>
<text transform="scale(1.05,1)" x="327.62" y="703.10" font-size="17" font-weight="bold" textLength="81.99" lengthAdjust="spacing">following</text>
<text transform="scale(1.05,1)" x="416.38" y="703.10" font-size="17" font-weight="bold" textLength="88.92" lengthAdjust="spacing">Treatment</text>
<text x="17.42" y="651.95" font-size="17.5" textLength="9.19" lengthAdjust="spacingAndGlyphs">0</text>
<text transform="scale(1.07,1)" x="0.52 10.43 15.46" y="586.60" font-size="17.5">0.5</text>
<text x="17.31" y="523.75" font-size="17.5" textLength="9.00" lengthAdjust="spacingAndGlyphs">1</text>
<text transform="scale(1.07,1)" x="0.89 10.71 15.65" y="459.10" font-size="17.5">1.5</text>
<text x="16.77" y="394.40" font-size="17.5" textLength="10.28" lengthAdjust="spacingAndGlyphs">2</text>
<text transform="scale(1.07,1)" x="0.89 10.89 16.03" y="329.60" font-size="17.5">2.5</text>
<text x="17.60" y="266.65" font-size="17.5" textLength="9.95" lengthAdjust="spacingAndGlyphs">3</text>
<text transform="scale(1.07,1)" x="0.71 10.75 15.93" y="201.25" font-size="17.5">3.5</text>
<text x="17.00" y="137.45" font-size="17.5" textLength="9.83" lengthAdjust="spacingAndGlyphs">4</text>
<text transform="scale(1.07,1)" x="0.89 10.52 15.28" y="74.50" font-size="17.5">4.5</text>
<text x="37.00" y="676.60" font-size="17.5" textLength="10.06" lengthAdjust="spacingAndGlyphs">0</text>
<text x="185.17" y="676.60" font-size="17.5" textLength="10.38" lengthAdjust="spacingAndGlyphs">5</text>
<text transform="scale(1.07,1)" x="306.50 315.03" y="676.60" font-size="17.5">10</text>
<text transform="scale(1.07,1)" x="445.57 454.94" y="676.60" font-size="17.5">15</text>
<text transform="scale(1.07,1)" x="584.44 593.63" y="676.60" font-size="17.5">20</text>
<text transform="scale(1.07,1)" x="723.14 732.41" y="676.60" font-size="17.5">25</text>
<text transform="scale(1.07,1)" x="799.00 808.99 818.99 833.93 846.58" y="254.00" font-size="16">400Oe</text>
<text transform="scale(1.07,1)" x="798.81 808.69 818.57 833.31 845.83" y="278.13" font-size="16">550Oe</text>
<text transform="scale(1.07,1)" x="799.74 809.65 824.39 837.30" y="302.26" font-size="16">15Gy</text>
<text transform="scale(1.07,1)" x="799.00 808.67 818.35 832.76 845.06 861.11 877.90 887.58 901.94 914.61" y="326.39" font-size="16">400Oe+15Gy</text>
<text transform="scale(1.07,1)" x="798.81 808.54 818.26 832.75 845.10 861.22 878.10 887.82 902.27 914.99" y="350.52" font-size="16">550Oe+15Gy</text>
<text transform="scale(1.07,1)" x="799.36 809.47 818.86 823.25 832.31 843.47 849.99 859.69 869.38 883.82 896.13 912.20 929.02 938.72 953.11 965.80 975.11" y="374.65" font-size="16">Poly.(550Oe+15Gy)</text>
<text transform="scale(1.07,1)" x="799.36 809.49 818.90 823.30 832.38 843.57 850.11 859.83 874.26 886.97 896.30" y="398.78" font-size="16">Poly.(15Gy)</text>
<text transform="scale(1.07,1)" x="799.36 809.47 818.86 823.25 832.31 843.47 849.99 859.69 869.38 883.82 896.13 912.20 929.02 938.72 953.11 965.80 975.11" y="422.91" font-size="16">Poly.(400Oe+15Gy)</text>
<text transform="scale(1.07,1)" x="799.36 809.52 818.94 823.36 832.45 843.67 850.23 859.97 869.72 884.23 896.60 906.43" y="447.04" font-size="16">Poly.(400Oe)</text>
<text transform="scale(1.07,1)" x="799.36 809.52 818.94 823.36 832.45 843.67 850.23 859.97 869.72 884.23 896.60 906.43" y="471.17" font-size="16">Poly.(550Oe)</text>
<path d="M833.2 242.5L838.2 247.5L833.2 252.5L828.2 247.5Z" fill="#5b9cff"/>
<path d="M828.4 266.8h9.6v9.6h-9.6Z" fill="#e0282f"/>
<path d="M833.2 290.8L838.1 300.6L828.3 300.6Z" fill="#fff47a"/>
<path d="M828.9 315.6L837.5 324.2M837.5 315.6L828.9 324.2" fill="none" stroke="#44ee44" stroke-width="1.8"/>
<path d="M829.0 339.8L837.4 348.2M837.4 339.8L829.0 348.2M833.2 339.6V348.4" fill="none" stroke="#6a1bff" stroke-width="1.8"/>
<line x1="815.5" y1="368.5" x2="850.5" y2="368.5" stroke="#3a009c" stroke-width="4.0" stroke-linecap="round"/>
<line x1="815.5" y1="392.9" x2="850.5" y2="392.9" stroke="#ffcc00" stroke-width="6.5" stroke-linecap="round"/>
<line x1="815.5" y1="417.2" x2="850.5" y2="417.2" stroke="#2b9c60" stroke-width="3.8" stroke-linecap="round"/>
<line x1="815.5" y1="441.6" x2="850.5" y2="441.6" stroke="#3366ff" stroke-width="3.8" stroke-linecap="round"/>
<line x1="815.5" y1="466.0" x2="850.5" y2="466.0" stroke="#e60000" stroke-width="3.8" stroke-linecap="round"/>
</svg></body></html>
